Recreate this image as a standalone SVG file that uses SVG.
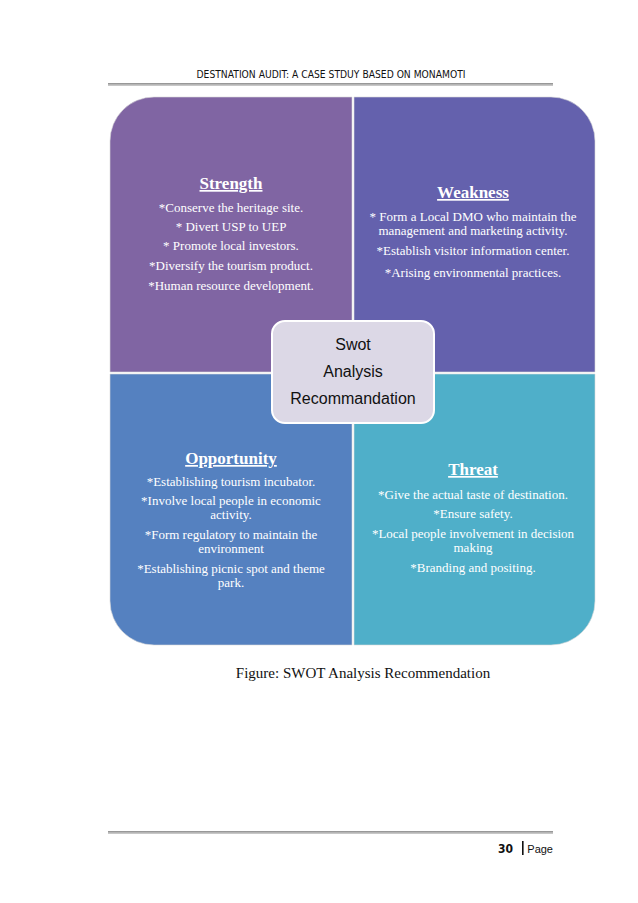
<svg xmlns="http://www.w3.org/2000/svg" width="638" height="903" viewBox="0 0 638 903">
<defs>
<linearGradient id="rule" x1="0" y1="0" x2="0" y2="1">
<stop offset="0" stop-color="#8a8a8a"/>
<stop offset="0.5" stop-color="#b5b5b5"/>
<stop offset="1" stop-color="#d0d0d0"/>
</linearGradient>
</defs>
<style>
.hdr{font-family:"DejaVu Sans","Liberation Sans",sans-serif;font-size:10px;fill:#111}
.head{font-family:"Liberation Serif",serif;font-size:17px;font-weight:bold;fill:#fff;text-anchor:middle;text-decoration:underline}
.item{font-family:"Liberation Serif",serif;font-size:13px;fill:#fff;text-anchor:middle}
.ctr{font-family:"Liberation Sans",sans-serif;font-size:16px;fill:#111;text-anchor:middle}
.cap{font-family:"Liberation Serif",serif;font-size:15px;fill:#111;text-anchor:middle}
.ftr{font-family:"DejaVu Sans","Liberation Sans",sans-serif;font-size:12px;fill:#111}
.pg{font-family:"Liberation Sans",sans-serif;font-size:11px;fill:#111}
</style>
<rect width="638" height="903" fill="#fff"/>
<text class="hdr" x="331" y="78" text-anchor="middle" textLength="269" lengthAdjust="spacingAndGlyphs">DESTNATION AUDIT: A CASE STDUY BASED ON MONAMOTI</text>
<rect x="108" y="83" width="445" height="3" fill="url(#rule)"/>

<g id="strength">
<path d="M110,141 A44,44 0 0 1 154,97 L352,97 L352,372 L110,372 Z" fill="#8065a3" stroke="#d9d9d9" stroke-width="0.6"/>
<text class="head" x="231" y="189">Strength</text>
<text class="item" x="231" y="212">*Conserve the heritage site.</text>
<text class="item" x="231" y="231">* Divert USP to UEP</text>
<text class="item" x="231" y="250">* Promote local investors.</text>
<text class="item" x="231" y="270">*Diversify the tourism product.</text>
<text class="item" x="231" y="290">*Human resource development.</text>
</g>

<g id="weakness">
<path d="M354,97 L551,97 A44,44 0 0 1 595,141 L595,372 L354,372 Z" fill="#6461ad" stroke="#d9d9d9" stroke-width="0.6"/>
<text class="head" x="473" y="198">Weakness</text>
<text class="item" x="473" y="221">* Form a Local DMO who maintain the</text>
<text class="item" x="473" y="235">management and marketing activity.</text>
<text class="item" x="473" y="255">*Establish  visitor information center.</text>
<text class="item" x="473" y="277">*Arising environmental practices.</text>
</g>

<g id="opportunity">
<path d="M110,374 L352,374 L352,645 L154,645 A44,44 0 0 1 110,601 Z" fill="#5581c0" stroke="#d9d9d9" stroke-width="0.6"/>
<text class="head" x="231" y="464">Opportunity</text>
<text class="item" x="231" y="486">*Establishing tourism incubator.</text>
<text class="item" x="231" y="505">*Involve local people in economic</text>
<text class="item" x="231" y="519">activity.</text>
<text class="item" x="231" y="539">*Form regulatory to maintain the</text>
<text class="item" x="231" y="553">environment</text>
<text class="item" x="231" y="573">*Establishing picnic spot and theme</text>
<text class="item" x="231" y="587">park.</text>
</g>

<g id="threat">
<path d="M354,374 L595,374 L595,601 A44,44 0 0 1 551,645 L354,645 Z" fill="#4fafc9" stroke="#d9d9d9" stroke-width="0.6"/>
<text class="head" x="473" y="475">Threat</text>
<text class="item" x="473" y="499">*Give the actual taste of destination.</text>
<text class="item" x="473" y="518">*Ensure safety.</text>
<text class="item" x="473" y="538">*Local people involvement in decision</text>
<text class="item" x="473" y="552">making</text>
<text class="item" x="473" y="572">*Branding and positing.</text>
</g>

<g id="center">
<rect x="272" y="321" width="162" height="102" rx="13" fill="#dcd8e6" stroke="#fff" stroke-width="2"/>
<text class="ctr" x="353" y="350">Swot</text>
<text class="ctr" x="353" y="377">Analysis</text>
<text class="ctr" x="353" y="404">Recommandation</text>
</g>

<g id="connectors"></g>

<text class="cap" x="363" y="678">Figure: SWOT Analysis Recommendation</text>

<rect x="108" y="831" width="445" height="3" fill="url(#rule)"/>
<text class="ftr" x="498" y="853" font-weight="bold" textLength="15" lengthAdjust="spacingAndGlyphs">30</text>
<rect x="522" y="841" width="1.6" height="14" fill="#111"/>
<text class="pg" x="553" y="853" text-anchor="end">Page</text>
</svg>
